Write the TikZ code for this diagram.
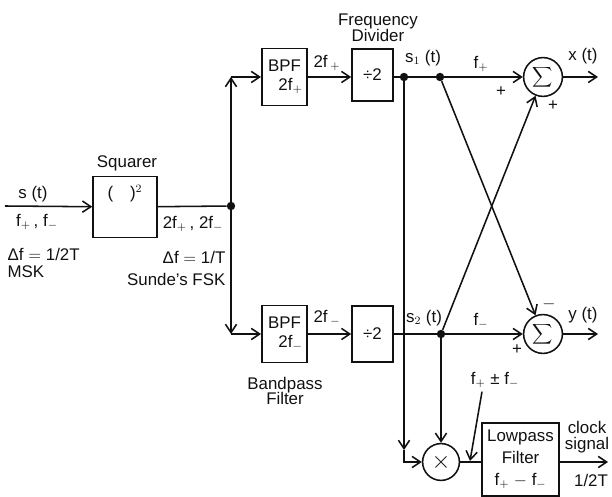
\documentclass[tikz,border=0pt]{standalone}
\usepackage{fontspec}
\setmainfont{Liberation Sans}
\usetikzlibrary{arrows.meta,positioning,calc}
\definecolor{inkblack}{HTML}{111111}
\tikzset{
  >={Straight Barb[length=2.1mm,width=2.8mm]},
  block/.style={
    rectangle, draw=inkblack, line width=1.1pt, align=center,
    font=\fontsize{12}{13}\selectfont, text=inkblack
  },
  opnode/.style={
    circle, draw=inkblack, line width=1.1pt, inner sep=0pt,
    font=\fontsize{12}{13}\selectfont, text=inkblack
  },
  junction/.style={circle, fill=inkblack, inner sep=0pt, minimum size=2.1mm},
  lbl/.style={font=\fontsize{12}{13}\selectfont, text=inkblack, align=center, inner sep=1pt},
  arrow/.style={->, line width=1.1pt, draw=inkblack},
  wire/.style={line width=1.1pt, draw=inkblack}
}
\newcommand{\fp}{f$_{+}$}
\newcommand{\fm}{f$_{-}$}

\begin{document}
\begin{tikzpicture}[x=0.025cm, y=-0.025cm]
\useasboundingbox (0,0) rectangle (612,497);
% blocks
\node[block, minimum width=1.6cm, minimum height=1.525cm] (sq) at (125,207) {(\quad)$^2$\\[3mm]};
\node[block, minimum width=1.075cm, minimum height=1.425cm] (bpfa) at (284.5,77) {BPF\\\hspace*{3mm}2\fp};
\node[block, minimum width=1.075cm, minimum height=1.425cm] (bpfb) at (284.5,334) {BPF\\\hspace*{3mm}2\fm};
\node[block, minimum width=1.025cm, minimum height=1.3cm] (diva) at (372.5,75) {÷2};
\node[block, minimum width=1.025cm, minimum height=1.4cm] (divb) at (372.5,334) {÷2};
\node[opnode, minimum size=0.97cm] (sa) at (543,77) {\LARGE$\displaystyle\sum$};
\node[opnode, minimum size=0.97cm] (sb) at (543,334) {\LARGE$\displaystyle\sum$};
\node[opnode, minimum size=0.92cm, font=\LARGE] (mul) at (441,462) {$\times$};
\node[block, minimum width=1.925cm, minimum height=1.825cm, font=\fontsize{12}{15.5}\selectfont] (lpf) at (520.5,459.5) {Lowpass\\Filter\\\fp\ $-$ \fm};
% junctions and corners
\node[junction] (j) at (231,206) {};
\node[junction] (da1) at (404,77) {};
\node[junction] (da2) at (440,77) {};
\node[junction] (db) at (441,334) {};
\coordinate (in) at (5,206);
\coordinate (ca) at (231,77);
\coordinate (cb) at (231,334);
\coordinate (ma) at (404,450);
\coordinate (xo) at (598,77);
\coordinate (yo) at (598,334);
\coordinate (co) at (608,462);
\coordinate (pt) at (470,461);
% labels
\node[lbl] (sqt) at (127,163) {Squarer};
\node[lbl] (st) at (33,194) {s (t)};
\node[lbl] (fin) at (37,222) {\fp\,, \fm};
\node[lbl, anchor=west] (dfa) at (6,254) {Δf $=$ 1/2T};
\node[lbl, anchor=west] (msk) at (6,272) {MSK};
\node[lbl] (ftwo) at (193,224) {2\fp\,, 2\fm};
\node[lbl, anchor=east] (dfb) at (227,257) {Δf $=$ 1/T};
\node[lbl, anchor=east] (sfsk) at (227,279) {Sunde's FSK};
\node[lbl] (fdiv) at (378,28) {Frequency\\[-2pt]Divider};
\node[lbl] (tfa) at (327,63) {2f\,$_{+}$};
\node[lbl] (tfb) at (327,318) {2f\,$_{-}$};
\node[lbl] (sone) at (423,58) {s$_1$ (t)};
\node[lbl] (stwo) at (424,318) {s$_2$ (t)};
\node[lbl] (fpl) at (481,64) {\fp};
\node[lbl] (fml) at (481,321) {\fm};
\node[lbl] (pa1) at (501,92) {+};
\node[lbl] (pa2) at (553,106) {+};
\node[lbl] (xt) at (583,56) {x (t)};
\node[lbl] (mb1) at (549,304) {$-$};
\node[lbl] (pb1) at (517,350) {+};
\node[lbl] (yt) at (583,315) {y (t)};
\node[lbl] (bpft) at (285,391) {Bandpass\\[-2pt]Filter};
\node[lbl] (fpm) at (495,380) {\fp\ ± \fm};
\node[lbl] (clk) at (587,437) {clock\\[-2pt]signal};
\node[lbl] (half) at (591,480) {1/2T};
% connectors
\draw[arrow] (in) -- (sq);
\draw[wire] (sq) -- (j);
\draw[arrow] (j) -- (ca);
\draw[arrow] (ca) -- (bpfa);
\draw[arrow] (j) -- (cb);
\draw[arrow] (cb) -- (bpfb);
\draw[arrow] (bpfa) -- (diva.west |- bpfa);
\draw[arrow] (bpfb) -- (divb);
\draw[arrow] (diva.east |- da1) -- (sa);
\draw[arrow] (divb) -- (sb);
\draw[arrow] (sa) -- (xo);
\draw[arrow] (sb) -- (yo);
\draw[arrow] (da2) -- (sb);
\draw[arrow] (db) -- (sa);
\draw[arrow] (da1) -- (ma);
\draw[arrow] (ma) |- (mul);
\draw[arrow] (db) -- (mul);
\draw[wire] (mul) -- (lpf.west |- mul);
\draw[arrow] (lpf.east |- mul) -- (co);
\draw[arrow] ($(fpm.south)+(-13,2)$) -- (pt);
\end{tikzpicture}
\end{document}
